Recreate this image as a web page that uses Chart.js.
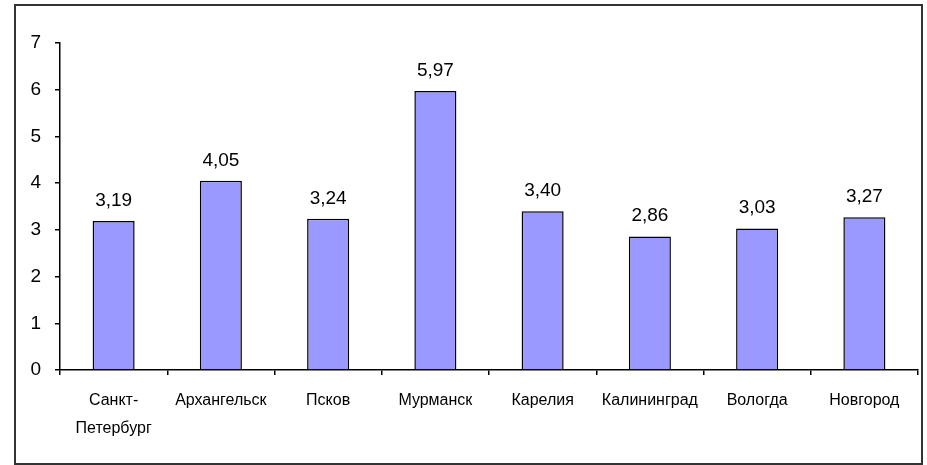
<!DOCTYPE html>
<html>
<head>
<meta charset="utf-8">
<script src="https://cdn.jsdelivr.net/npm/chart.js@4/dist/chart.umd.min.js"></script>
<style>
  html, body { margin: 0; padding: 0; background: #fff; }
  #wrap { position: relative; width: 927px; height: 465px; }
  #frame { position: absolute; left: 14px; top: 4px; width: 905px; height: 457px; border: 2px solid #333; pointer-events: none; }
  canvas { position: absolute; left: 0; top: 0; }
</style>
</head>
<body>
<div id="wrap">
  <canvas id="c" width="927" height="465"></canvas>
  <div id="frame"></div>
</div>
<script>
const categories = [["Санкт-", "Петербург"], "Архангельск", "Псков", "Мурманск", "Карелия", "Калининград", "Вологда", "Новгород"];
const values = [3.19, 4.05, 3.24, 5.97, 3.40, 2.86, 3.03, 3.27];
const yTicks = [0, 1, 2, 3, 4, 5, 6, 7];

const FONT = "'Liberation Sans', Arial, sans-serif";

const valueLabels = {
  id: 'valueLabels',
  afterDatasetsDraw(chart) {
    const ctx = chart.ctx;
    const meta = chart.getDatasetMeta(0);
    ctx.save();
    ctx.font = "19px " + FONT;
    ctx.fillStyle = '#000';
    ctx.textAlign = 'center';
    ctx.textBaseline = 'alphabetic';
    meta.data.forEach((bar, i) => {
      const v = chart.data.datasets[0].data[i];
      ctx.fillText(v.toFixed(2).replace('.', ','), bar.x, bar.y - 15);
    });
    ctx.restore();
  }
};

new Chart(document.getElementById('c'), {
  type: 'bar',
  data: {
    labels: categories,
    datasets: [{
      data: values,
      backgroundColor: '#9999FF',
      borderColor: '#000000',
      borderWidth: 1.5,
      barPercentage: 0.8,
      categoryPercentage: 0.49
    }]
  },
  options: {
    responsive: false,
    animation: false,
    layout: { padding: { left: 0, top: 43, right: 9, bottom: 0 } },
    plugins: { legend: { display: false }, title: { display: false }, tooltip: { enabled: false } },
    scales: {
      x: {
        grid: { drawOnChartArea: false, drawTicks: true, tickLength: 5, color: '#000', lineWidth: 1.5 },
        border: { color: '#000', width: 1.5 },
        ticks: { color: '#000', font: { family: FONT, size: 16, lineHeight: 1.75 }, padding: 12, maxRotation: 0, autoSkip: false },
        afterFit(scale) { scale.height = 95; }
      },
      y: {
        min: 0, max: 7,
        grid: { drawOnChartArea: false, drawTicks: true, tickLength: 5, color: '#000', lineWidth: 1.5 },
        border: { color: '#000', width: 1.5 },
        ticks: {
          color: '#000', stepSize: 1, padding: 14,
          font: { family: FONT, size: 19 },
          callback: (v) => yTicks.includes(v) ? String(v) : ''
        },
        afterFit(scale) { scale.width = 60; }
      }
    }
  },
  plugins: [valueLabels]
});
</script>
</body>
</html>
